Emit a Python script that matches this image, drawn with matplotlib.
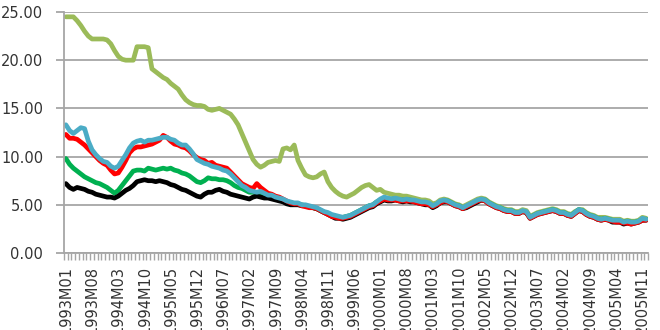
import matplotlib.pyplot as plt
import numpy as np

# monthly categories 1993M01 .. 2005M12
months = [f"{y}M{m:02d}" for y in range(1993, 2006) for m in range(1, 13)]

olive = [24.5, 24.5, 24.5, 24.1, 23.6, 23.0, 22.5, 22.2, 22.2, 22.2, 22.2, 22.1,
         21.7, 21.0, 20.4, 20.1, 20.0, 20.0, 20.0, 21.4, 21.4, 21.4, 21.3, 19.1,
         18.8, 18.5, 18.2, 18.0, 17.6, 17.3, 17.0, 16.4, 15.9, 15.6, 15.4, 15.3,
         15.3, 15.2, 14.9, 14.8, 14.9, 15.0, 14.8, 14.6, 14.4, 13.9, 13.3, 12.4,
         11.5, 10.6, 9.7, 9.2, 8.9, 9.1, 9.4, 9.5, 9.6, 9.5, 10.8, 10.9,
         10.7, 11.2, 9.6, 8.8, 8.1, 7.9, 7.8, 7.9, 8.2, 8.4, 7.4, 6.8,
         6.4, 6.1, 5.9, 5.8, 6.0, 6.2, 6.5, 6.8, 7.0, 7.1, 6.8, 6.5,
         6.6, 6.3, 6.2, 6.1, 6.0, 6.0, 5.9, 5.9, 5.8, 5.7, 5.6, 5.5,
         5.5, 5.4, 5.1, 5.2, 5.5, 5.6, 5.5, 5.3, 5.1, 5.0, 4.8, 5.0,
         5.2, 5.4, 5.6, 5.7, 5.6, 5.3, 5.1, 4.9, 4.8, 4.6, 4.5, 4.5,
         4.3, 4.3, 4.5, 4.4, 3.8, 4.0, 4.2, 4.3, 4.4, 4.5, 4.6, 4.5,
         4.3, 4.3, 4.1, 4.0, 4.3, 4.5, 4.5, 4.2, 4.0, 3.9, 3.7, 3.7,
         3.7, 3.6, 3.5, 3.5, 3.5, 3.3, 3.4, 3.3, 3.3, 3.4, 3.7, 3.6]

green = [9.8, 9.2, 8.8, 8.5, 8.2, 7.9, 7.7, 7.5, 7.3, 7.2, 7.0, 6.8,
         6.5, 6.2, 6.5, 7.0, 7.5, 8.0, 8.5, 8.6, 8.6, 8.5, 8.8, 8.7,
         8.6, 8.7, 8.8, 8.7, 8.8, 8.6, 8.5, 8.3, 8.2, 8.0, 7.7, 7.4,
         7.3, 7.5, 7.8, 7.7, 7.7, 7.6, 7.6, 7.5, 7.3, 7.0, 6.8, 6.7,
         6.5, 6.3, 6.3, 6.2, 6.1, 6.0, 5.9, 5.9, 5.8, 5.7, 5.5, 5.3,
         5.2, 5.1, 5.1, 5.0, 4.9, 4.8, 4.7, 4.6, 4.4, 4.2, 4.1, 3.9,
         3.8, 3.7, 3.7, 3.8, 3.9, 4.1, 4.3, 4.5, 4.7, 4.9, 5.0, 5.3,
         5.5, 5.7, 5.6, 5.6, 5.6, 5.5, 5.5, 5.5, 5.5, 5.4, 5.3, 5.2,
         5.2, 5.1, 4.9, 5.0, 5.3, 5.4, 5.4, 5.2, 5.0, 4.9, 4.7, 4.8,
         5.0, 5.2, 5.4, 5.5, 5.5, 5.2, 5.0, 4.8, 4.7, 4.5, 4.4, 4.4,
         4.2, 4.2, 4.3, 4.2, 3.7, 3.9, 4.1, 4.2, 4.3, 4.4, 4.5, 4.4,
         4.2, 4.2, 4.0, 3.9, 4.2, 4.5, 4.4, 4.1, 3.9, 3.8, 3.6, 3.5,
         3.6, 3.5, 3.4, 3.3, 3.3, 3.2, 3.3, 3.2, 3.2, 3.3, 3.5, 3.5]

black = [7.2, 6.8, 6.6, 6.8, 6.7, 6.6, 6.4, 6.3, 6.1, 6.0, 5.9, 5.8,
         5.8, 5.7, 5.9, 6.2, 6.5, 6.7, 7.0, 7.4, 7.5, 7.6, 7.5, 7.5,
         7.4, 7.5, 7.4, 7.3, 7.1, 7.0, 6.8, 6.6, 6.5, 6.3, 6.1, 5.9,
         5.8, 6.1, 6.3, 6.3, 6.5, 6.6, 6.4, 6.3, 6.1, 6.0, 5.9, 5.8,
         5.7, 5.6, 5.8, 5.9, 5.8, 5.7, 5.7, 5.6, 5.5, 5.4, 5.3, 5.1,
         5.0, 5.0, 5.0, 4.9, 4.9, 4.8, 4.7, 4.6, 4.4, 4.2, 4.0, 3.8,
         3.6, 3.6, 3.5, 3.6, 3.7, 3.9, 4.1, 4.3, 4.5, 4.7, 4.8, 5.1,
         5.3, 5.5, 5.4, 5.4, 5.5, 5.4, 5.3, 5.4, 5.3, 5.3, 5.2, 5.1,
         5.0, 5.0, 4.7, 4.9, 5.2, 5.3, 5.3, 5.1, 4.9, 4.8, 4.6, 4.7,
         4.9, 5.1, 5.3, 5.5, 5.4, 5.1, 4.9, 4.7, 4.6, 4.4, 4.3, 4.3,
         4.1, 4.1, 4.3, 4.2, 3.6, 3.8, 4.0, 4.1, 4.2, 4.3, 4.4, 4.3,
         4.1, 4.1, 3.9, 3.8, 4.1, 4.4, 4.3, 4.0, 3.8, 3.7, 3.5, 3.4,
         3.5, 3.4, 3.2, 3.2, 3.2, 3.0, 3.1, 3.0, 3.1, 3.2, 3.4, 3.4]

red = [12.3, 11.9, 11.9, 11.8, 11.5, 11.2, 10.8, 10.4, 10.0, 9.6, 9.3, 9.1,
       8.6, 8.2, 8.3, 8.9, 9.6, 10.4, 10.8, 11.0, 11.0, 11.1, 11.2, 11.3,
       11.5, 11.7, 12.2, 12.0, 11.6, 11.3, 11.2, 11.0, 10.9, 10.6, 10.2, 9.9,
       9.7, 9.6, 9.3, 9.4, 9.1, 9.0, 8.9, 8.8, 8.4, 8.0, 7.6, 7.2,
       7.0, 6.8, 6.7, 7.2, 6.8, 6.5, 6.2, 6.1, 5.9, 5.8, 5.6, 5.4,
       5.2, 5.1, 5.1, 4.9, 4.8, 4.7, 4.7, 4.6, 4.4, 4.2, 4.0, 3.8,
       3.7, 3.6, 3.6, 3.7, 3.8, 4.0, 4.2, 4.4, 4.6, 4.8, 4.9, 5.2,
       5.4, 5.6, 5.5, 5.5, 5.5, 5.4, 5.4, 5.4, 5.4, 5.3, 5.2, 5.1,
       5.1, 5.0, 4.8, 5.0, 5.2, 5.4, 5.3, 5.1, 4.9, 4.8, 4.6, 4.8,
       5.0, 5.2, 5.4, 5.5, 5.4, 5.1, 4.9, 4.7, 4.6, 4.4, 4.3, 4.3,
       4.1, 4.1, 4.3, 4.2, 3.6, 3.8, 4.0, 4.1, 4.2, 4.3, 4.4, 4.3,
       4.1, 4.1, 3.9, 3.8, 4.1, 4.4, 4.3, 4.0, 3.8, 3.7, 3.5, 3.4,
       3.5, 3.4, 3.3, 3.2, 3.2, 3.1, 3.1, 3.0, 3.1, 3.2, 3.4, 3.4]

blue = [13.3, 12.7, 12.4, 12.7, 13.0, 12.9, 11.6, 10.7, 10.2, 9.8, 9.5, 9.4,
        9.0, 8.8, 9.0, 9.6, 10.2, 10.9, 11.4, 11.6, 11.7, 11.5, 11.7, 11.7,
        11.8, 11.9, 12.0, 12.0, 11.8, 11.7, 11.4, 11.2, 11.2, 10.8, 10.3, 9.7,
        9.5, 9.3, 9.2, 9.0, 8.9, 8.8, 8.6, 8.5, 8.2, 7.8, 7.4, 7.0,
        6.8, 6.5, 6.4, 6.3, 6.4, 6.2, 6.0, 6.0, 5.8, 5.7, 5.6, 5.4,
        5.3, 5.2, 5.2, 5.0, 5.0, 4.9, 4.8, 4.7, 4.5, 4.3, 4.2, 4.0,
        3.9, 3.8, 3.7, 3.8, 3.9, 4.1, 4.3, 4.5, 4.7, 4.9, 5.0, 5.3,
        5.6, 5.8, 5.7, 5.6, 5.7, 5.6, 5.5, 5.6, 5.5, 5.5, 5.4, 5.3,
        5.3, 5.2, 4.9, 5.1, 5.4, 5.5, 5.4, 5.2, 5.0, 4.9, 4.7, 4.9,
        5.1, 5.3, 5.5, 5.6, 5.5, 5.2, 5.0, 4.8, 4.7, 4.5, 4.4, 4.4,
        4.2, 4.2, 4.4, 4.3, 3.7, 3.9, 4.1, 4.2, 4.3, 4.4, 4.5, 4.4,
        4.2, 4.2, 4.0, 3.9, 4.2, 4.5, 4.4, 4.1, 3.9, 3.8, 3.6, 3.5,
        3.6, 3.5, 3.4, 3.4, 3.4, 3.2, 3.3, 3.2, 3.2, 3.3, 3.6, 3.5]

x = np.arange(len(months))

fig = plt.figure(figsize=(6.6, 3.3), dpi=100)
ax = fig.add_axes([64/660, 1 - 253/330, 584/660, 241/330])

for vals, col in [(olive, '#9BBB59'), (green, '#00B050'), (black, '#000000'),
                  (red, '#FF0000'), (blue, '#4BACC6')]:
    ax.plot(x, vals, color=col, lw=3.4, solid_joinstyle='round', solid_capstyle='round')

ax.set_xlim(-0.5, len(months) - 0.5)
ax.set_ylim(0, 25)
ax.set_yticks(np.arange(0, 26, 5))
ax.yaxis.set_major_formatter(plt.FormatStrFormatter('%.2f'))
ax.yaxis.grid(True, color='#A6A6A6', lw=1.3)
ax.set_axisbelow(True)

for s in ['top', 'right']:
    ax.spines[s].set_visible(False)
for s in ['left', 'bottom']:
    ax.spines[s].set_color('#A6A6A6')
    ax.spines[s].set_linewidth(1.3)

ax.set_xticks(x[::7])
ax.set_xticklabels(months[::7], rotation=90, fontsize=10.5, color='#333333')
ax.set_xticks(np.arange(-0.5, len(months), 1), minor=True)
ax.tick_params(axis='x', which='major', length=0, pad=9)
ax.tick_params(axis='x', which='minor', length=5, color='#A6A6A6', width=1)
ax.tick_params(axis='y', length=6, color='#A6A6A6', width=1.3, pad=9,
               labelsize=10.5, labelcolor='#333333')

fig.savefig('out.png', dpi=100)
